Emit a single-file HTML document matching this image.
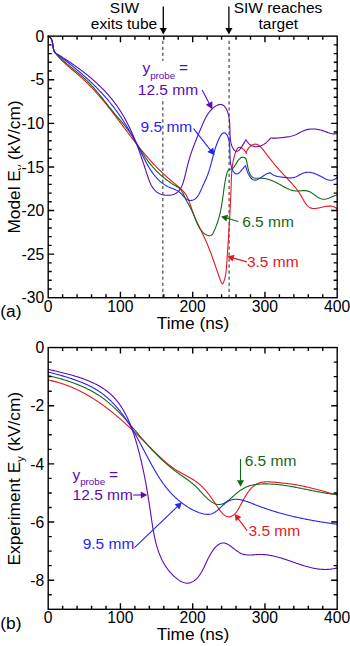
<!DOCTYPE html>
<html><head><meta charset="utf-8"><style>
html,body{margin:0;padding:0;background:#fff;}
svg{display:block;font-family:"Liberation Sans", sans-serif;}
</style></head><body>
<svg width="350" height="646" viewBox="0 0 350 646">
<text x="44.3" y="41.85" font-size="15.7" text-anchor="end" fill="#000" >0</text>
<text x="44.3" y="85.44166666666668" font-size="15.7" text-anchor="end" fill="#000" >-5</text>
<text x="44.3" y="129.03333333333333" font-size="15.7" text-anchor="end" fill="#000" >-10</text>
<text x="44.3" y="172.625" font-size="15.7" text-anchor="end" fill="#000" >-15</text>
<text x="44.3" y="216.21666666666667" font-size="15.7" text-anchor="end" fill="#000" >-20</text>
<text x="44.3" y="259.80833333333334" font-size="15.7" text-anchor="end" fill="#000" >-25</text>
<text x="44.3" y="303.4" font-size="15.7" text-anchor="end" fill="#000" >-30</text>
<text x="48.2" y="311.5" font-size="15.7" text-anchor="middle" fill="#000" >0</text>
<text x="120.45" y="311.5" font-size="15.7" text-anchor="middle" fill="#000" >100</text>
<text x="192.7" y="311.5" font-size="15.7" text-anchor="middle" fill="#000" >200</text>
<text x="264.95" y="311.5" font-size="15.7" text-anchor="middle" fill="#000" >300</text>
<text x="337.2" y="311.5" font-size="15.7" text-anchor="middle" fill="#000" >400</text>
<text x="44.3" y="353.25" font-size="15.7" text-anchor="end" fill="#000" >0</text>
<text x="44.3" y="411.4166666666667" font-size="15.7" text-anchor="end" fill="#000" >-2</text>
<text x="44.3" y="469.5833333333333" font-size="15.7" text-anchor="end" fill="#000" >-4</text>
<text x="44.3" y="527.75" font-size="15.7" text-anchor="end" fill="#000" >-6</text>
<text x="44.3" y="585.9166666666667" font-size="15.7" text-anchor="end" fill="#000" >-8</text>
<text x="48.2" y="623" font-size="15.7" text-anchor="middle" fill="#000" >0</text>
<text x="120.45" y="623" font-size="15.7" text-anchor="middle" fill="#000" >100</text>
<text x="192.7" y="623" font-size="15.7" text-anchor="middle" fill="#000" >200</text>
<text x="264.95" y="623" font-size="15.7" text-anchor="middle" fill="#000" >300</text>
<text x="337.2" y="623" font-size="15.7" text-anchor="middle" fill="#000" >400</text>
<text x="193.0" y="329.3" font-size="17.3" text-anchor="middle" fill="#000" >Time (ns)</text>
<text x="193.0" y="640.2" font-size="17.3" text-anchor="middle" fill="#000" >Time (ns)</text>
<text x="0.3" y="317.2" font-size="17.3" text-anchor="start" fill="#000" >(a)</text>
<text x="0.3" y="629" font-size="17.3" text-anchor="start" fill="#000" >(b)</text>
<text transform="translate(19.6,233.6) rotate(-90)" font-size="17.3">Model E<tspan font-size="11" dy="4.4">y</tspan><tspan dy="-4.4"> (kV/cm)</tspan></text>
<text transform="translate(19.6,565.5) rotate(-90)" font-size="17.3">Experiment E<tspan font-size="11" dy="4.4">y</tspan><tspan dy="-4.4"> (kV/cm)</tspan></text>
<rect x="21" y="161.2" width="24" height="12.2" fill="#fff"/>
<text x="44.3" y="172.625" font-size="15.7" text-anchor="end" fill="#000" >-15</text>
<path d="M162.85 40.7V297" stroke="#3a3a3a" stroke-width="1.1" stroke-dasharray="3.2 2.85" fill="none"/>
<path d="M229.1 40.7V297" stroke="#3a3a3a" stroke-width="1.1" stroke-dasharray="3.2 2.85" fill="none"/>
<g fill="none" stroke-width="1.1" stroke-linejoin="round" stroke-linecap="round">
<path d="M48.20 36.20L49.15 36.72L49.95 37.33L50.61 38.02L51.15 38.78L51.59 39.61L51.94 40.49L52.22 41.41L52.43 42.38L52.61 43.37L52.75 44.38L52.88 45.41L53.02 46.43L53.17 47.46L53.36 48.46L53.59 49.45L53.88 50.41L54.26 51.32L54.72 52.19L55.30 53.00L55.88 53.76L56.47 54.51L57.07 55.26L57.69 55.99L58.32 56.72L58.96 57.44L59.62 58.15L60.28 58.85L60.96 59.55L61.64 60.24L62.33 60.92L63.04 61.60L63.75 62.27L64.46 62.94L65.19 63.61L65.92 64.27L66.66 64.92L67.40 65.58L68.15 66.23L68.90 66.88L69.65 67.53L70.41 68.17L71.17 68.82L71.93 69.46L72.70 70.10L73.46 70.75L74.23 71.39L74.99 72.04L75.76 72.68L76.52 73.33L77.28 73.98L78.04 74.63L78.80 75.29L79.55 75.95L80.30 76.61L81.04 77.28L81.79 77.95L82.52 78.63L83.25 79.30L83.98 79.99L84.71 80.67L85.43 81.36L86.15 82.05L86.86 82.75L87.57 83.45L88.28 84.15L88.98 84.86L89.68 85.57L90.37 86.28L91.06 87.00L91.75 87.72L92.44 88.44L93.12 89.17L93.80 89.89L94.47 90.63L95.15 91.36L95.82 92.10L96.48 92.84L97.15 93.58L97.81 94.32L98.47 95.07L99.12 95.82L99.78 96.57L100.43 97.33L101.07 98.08L101.72 98.84L102.36 99.60L103.00 100.37L103.64 101.13L104.27 101.90L104.91 102.67L105.54 103.44L106.17 104.21L106.79 104.99L107.42 105.77L108.04 106.55L108.66 107.33L109.28 108.11L109.90 108.89L110.51 109.68L111.13 110.46L111.74 111.25L112.35 112.04L112.96 112.83L113.57 113.62L114.17 114.41L114.78 115.21L115.38 116.00L115.99 116.80L116.59 117.60L117.19 118.39L117.79 119.19L118.39 119.99L118.99 120.79L119.59 121.59L120.18 122.39L120.78 123.19L121.38 123.99L121.98 124.79L122.57 125.59L123.17 126.39L123.76 127.19L124.36 127.99L124.96 128.79L125.55 129.59L126.15 130.39L126.75 131.19L127.35 131.99L127.94 132.79L128.54 133.59L129.14 134.38L129.74 135.18L130.34 135.98L130.95 136.77L131.55 137.57L132.15 138.36L132.76 139.15L133.36 139.94L133.97 140.73L134.58 141.52L135.19 142.31L135.80 143.10L136.41 143.88L137.03 144.66L137.65 145.45L138.26 146.23L138.89 147.00L139.51 147.78L140.13 148.56L140.76 149.33L141.39 150.10L142.02 150.87L142.65 151.63L143.29 152.40L143.93 153.16L144.57 153.92L145.21 154.68L145.86 155.43L146.51 156.18L147.16 156.93L147.81 157.68L148.47 158.42L149.13 159.16L149.80 159.90L150.46 160.64L151.13 161.37L151.81 162.10L152.48 162.83L153.16 163.55L153.84 164.28L154.53 164.99L155.21 165.71L155.90 166.42L156.60 167.13L157.29 167.84L157.99 168.54L158.70 169.24L159.40 169.94L160.11 170.63L160.82 171.32L161.53 172.01L162.25 172.69L162.97 173.37L163.69 174.05L164.42 174.73L165.15 175.40L165.88 176.06L166.61 176.73L167.35 177.39L168.09 178.04L168.83 178.70L169.58 179.35L170.33 179.99L171.08 180.64L171.83 181.27L172.59 181.91L173.35 182.54L174.12 183.17L174.88 183.79L175.65 184.42L176.42 185.04L177.18 185.66L177.94 186.29L178.69 186.92L179.43 187.56L180.16 188.21L180.88 188.87L181.58 189.54L182.27 190.23L182.94 190.93L183.58 191.66L184.21 192.40L184.80 193.16L185.37 193.95L185.92 194.76L186.43 195.61L186.91 196.47L187.37 197.36L187.80 198.27L188.22 199.20L188.61 200.14L188.99 201.10L189.35 202.07L189.71 203.05L190.05 204.03L190.39 205.02L190.72 206.01L191.05 207.01L191.38 208.00L191.72 208.99L192.06 209.97L192.41 210.94L192.76 211.91L193.12 212.87L193.49 213.82L193.87 214.77L194.25 215.70L194.63 216.64L195.02 217.56L195.42 218.48L195.82 219.40L196.23 220.31L196.63 221.22L197.05 222.12L197.46 223.02L197.88 223.92L198.30 224.81L198.72 225.70L199.14 226.59L199.57 227.48L200.00 228.37L200.42 229.25L200.85 230.13L201.28 231.02L201.70 231.90L202.13 232.79L202.56 233.67L202.98 234.56L203.40 235.45L203.82 236.34L204.24 237.23L204.65 238.13L205.07 239.03L205.47 239.93L205.88 240.83L206.28 241.74L206.67 242.66L207.07 243.57L207.45 244.50L207.84 245.42L208.22 246.35L208.59 247.28L208.97 248.21L209.33 249.15L209.70 250.09L210.06 251.03L210.42 251.97L210.78 252.91L211.13 253.86L211.48 254.81L211.83 255.75L212.17 256.70L212.52 257.65L212.86 258.60L213.19 259.55L213.53 260.50L213.86 261.45L214.19 262.39L214.52 263.34L214.85 264.29L215.18 265.23L215.50 266.17L215.82 267.11L216.15 268.05L216.47 268.99L216.79 269.92L217.10 270.85L217.42 271.78L217.74 272.71L218.06 273.65L218.39 274.59L218.72 275.55L219.06 276.53L219.41 277.54L219.77 278.57L220.15 279.64L220.55 280.74L220.96 281.80L221.37 282.73L221.79 283.44L222.21 283.84L222.61 283.83L223.01 283.41L223.39 282.70L223.75 281.84L224.07 280.94L224.38 280.02L224.65 279.08L224.90 278.14L225.13 277.18L225.34 276.21L225.53 275.23L225.70 274.24L225.85 273.24L225.99 272.23L226.11 271.22L226.23 270.20L226.33 269.18L226.42 268.15L226.51 267.13L226.59 266.10L226.66 265.07L226.73 264.04L226.80 263.02L226.87 262.00L226.94 260.98L227.01 259.97L227.08 258.95L227.15 257.95L227.21 256.94L227.28 255.93L227.35 254.93L227.41 253.93L227.48 252.93L227.55 251.93L227.61 250.94L227.68 249.95L227.74 248.95L227.81 247.96L227.87 246.97L227.93 245.98L228.00 244.99L228.06 244.00L228.12 243.02L228.19 242.03L228.25 241.04L228.31 240.05L228.38 239.06L228.44 238.08L228.50 237.09L228.57 236.10L228.63 235.11L228.69 234.12L228.75 233.13L228.81 232.15L228.87 231.16L228.94 230.17L229.00 229.18L229.06 228.19L229.12 227.20L229.18 226.21L229.24 225.21L229.30 224.22L229.35 223.23L229.41 222.24L229.47 221.25L229.53 220.26L229.58 219.26L229.64 218.27L229.70 217.28L229.75 216.28L229.81 215.29L229.86 214.29L229.92 213.30L229.97 212.30L230.02 211.31L230.08 210.31L230.13 209.31L230.18 208.32L230.23 207.32L230.28 206.32L230.33 205.32L230.38 204.32L230.42 203.32L230.47 202.32L230.52 201.32L230.56 200.32L230.61 199.32L230.65 198.32L230.70 197.32L230.74 196.32L230.78 195.31L230.82 194.31L230.86 193.30L230.90 192.30L230.94 191.29L230.98 190.29L231.01 189.28L231.05 188.27L231.08 187.26L231.12 186.26L231.15 185.25L231.18 184.24L231.21 183.23L231.25 182.22L231.28 181.21L231.32 180.20L231.36 179.19L231.40 178.18L231.45 177.17L231.50 176.17L231.55 175.16L231.61 174.16L231.68 173.15L231.75 172.15L231.83 171.15L231.92 170.15L232.02 169.16L232.12 168.17L232.24 167.17L232.36 166.19L232.49 165.20L232.64 164.22L232.80 163.24L232.97 162.26L233.15 161.29L233.35 160.32L233.56 159.36L233.78 158.40L234.02 157.44L234.28 156.49L234.55 155.54L234.84 154.60L235.14 153.66L235.47 152.72L235.81 151.80L236.17 150.87L236.56 149.98L236.99 149.15L237.48 148.42L238.03 147.84L238.67 147.44L239.41 147.26L240.25 147.35L241.23 147.74L242.33 148.46L243.48 149.42L244.57 150.51L245.48 151.60L246.09 152.58L246.31 153.32L246.00 153.70L246.29 152.52L246.68 151.40L247.15 150.34L247.70 149.35L248.32 148.43L248.99 147.58L249.72 146.82L250.49 146.14L251.28 145.56L252.10 145.07L252.93 144.68L253.77 144.39L254.59 144.21L255.41 144.15L256.19 144.21L256.95 144.38L257.69 144.66L258.41 145.03L259.11 145.48L259.79 146.02L260.45 146.62L261.10 147.29L261.74 148.00L262.37 148.76L263.00 149.55L263.62 150.36L264.23 151.19L264.85 152.03L265.47 152.86L266.08 153.69L266.70 154.52L267.33 155.34L267.95 156.15L268.58 156.96L269.20 157.77L269.83 158.57L270.46 159.36L271.09 160.15L271.73 160.94L272.36 161.72L273.00 162.50L273.64 163.27L274.28 164.04L274.92 164.81L275.57 165.57L276.21 166.32L276.86 167.08L277.51 167.82L278.16 168.57L278.81 169.31L279.46 170.05L280.12 170.78L280.77 171.51L281.43 172.24L282.09 172.96L282.75 173.68L283.41 174.40L284.07 175.12L284.74 175.83L285.41 176.53L286.07 177.24L286.74 177.94L287.41 178.65L288.07 179.35L288.74 180.06L289.40 180.77L290.07 181.48L290.73 182.19L291.38 182.91L292.04 183.64L292.68 184.37L293.33 185.11L293.97 185.86L294.60 186.62L295.23 187.39L295.85 188.17L296.47 188.96L297.08 189.76L297.68 190.58L298.27 191.41L298.85 192.26L299.43 193.12L299.99 194.00L300.54 194.90L301.08 195.82L301.62 196.75L302.15 197.68L302.68 198.62L303.20 199.55L303.73 200.47L304.27 201.37L304.82 202.24L305.37 203.08L305.95 203.89L306.54 204.64L307.15 205.35L307.78 206.00L308.44 206.58L309.13 207.10L309.85 207.54L310.60 207.89L311.39 208.16L312.22 208.34L313.08 208.45L313.97 208.48L314.89 208.46L315.83 208.38L316.79 208.26L317.78 208.10L318.78 207.91L319.79 207.69L320.81 207.47L321.84 207.24L322.88 207.00L323.92 206.78L324.96 206.58L326.00 206.40L327.03 206.25L328.05 206.14L329.06 206.08L330.06 206.08L331.04 206.14L332.00 206.27L332.94 206.48L333.85 206.78L334.74 207.17L335.59 207.67L336.41 208.28L337.20 209.00" stroke="#e41822"/>
<path d="M48.20 36.20L49.15 36.72L49.95 37.33L50.61 38.02L51.15 38.78L51.59 39.61L51.94 40.49L52.22 41.41L52.43 42.38L52.61 43.37L52.75 44.38L52.88 45.41L53.02 46.43L53.17 47.46L53.36 48.46L53.59 49.45L53.88 50.41L54.26 51.32L54.72 52.19L55.30 53.00L55.98 53.73L56.66 54.44L57.35 55.15L58.05 55.86L58.76 56.55L59.48 57.24L60.20 57.92L60.93 58.59L61.66 59.26L62.40 59.92L63.15 60.58L63.89 61.23L64.65 61.88L65.41 62.53L66.17 63.17L66.93 63.81L67.70 64.44L68.47 65.07L69.24 65.71L70.01 66.33L70.79 66.96L71.57 67.59L72.34 68.22L73.12 68.84L73.89 69.47L74.67 70.09L75.45 70.72L76.22 71.35L76.99 71.98L77.76 72.62L78.53 73.25L79.29 73.89L80.05 74.54L80.81 75.18L81.56 75.83L82.31 76.49L83.05 77.15L83.79 77.81L84.52 78.48L85.25 79.16L85.97 79.84L86.68 80.53L87.39 81.23L88.09 81.93L88.79 82.64L89.48 83.35L90.17 84.07L90.85 84.79L91.53 85.51L92.20 86.25L92.87 86.98L93.54 87.72L94.20 88.47L94.85 89.21L95.51 89.96L96.16 90.72L96.80 91.48L97.45 92.24L98.09 93.00L98.72 93.77L99.36 94.54L99.99 95.31L100.62 96.08L101.25 96.86L101.88 97.64L102.51 98.42L103.13 99.20L103.75 99.98L104.38 100.76L105.00 101.55L105.62 102.33L106.24 103.11L106.86 103.90L107.48 104.68L108.10 105.47L108.72 106.25L109.35 107.04L109.97 107.82L110.59 108.60L111.22 109.38L111.84 110.16L112.47 110.94L113.10 111.72L113.73 112.49L114.36 113.26L115.00 114.03L115.64 114.80L116.28 115.57L116.92 116.33L117.56 117.09L118.20 117.86L118.85 118.62L119.49 119.38L120.13 120.14L120.78 120.90L121.42 121.66L122.06 122.42L122.69 123.19L123.32 123.95L123.95 124.72L124.58 125.49L125.20 126.27L125.82 127.05L126.43 127.83L127.04 128.61L127.64 129.40L128.23 130.20L128.82 131.00L129.40 131.80L129.97 132.62L130.53 133.43L131.09 134.26L131.64 135.08L132.18 135.92L132.72 136.76L133.25 137.60L133.77 138.44L134.30 139.29L134.81 140.15L135.33 141.00L135.84 141.86L136.35 142.72L136.86 143.58L137.37 144.44L137.87 145.30L138.38 146.16L138.89 147.02L139.40 147.89L139.91 148.75L140.42 149.61L140.93 150.46L141.45 151.32L141.97 152.17L142.50 153.02L143.02 153.87L143.56 154.72L144.10 155.56L144.65 156.39L145.20 157.22L145.76 158.05L146.33 158.87L146.91 159.68L147.50 160.49L148.09 161.29L148.69 162.09L149.30 162.88L149.92 163.66L150.55 164.43L151.19 165.20L151.83 165.97L152.48 166.72L153.14 167.47L153.81 168.21L154.48 168.95L155.16 169.68L155.85 170.40L156.55 171.11L157.26 171.81L157.97 172.51L158.69 173.20L159.42 173.88L160.15 174.55L160.89 175.22L161.64 175.88L162.40 176.53L163.16 177.17L163.93 177.80L164.70 178.42L165.49 179.04L166.28 179.65L167.07 180.24L167.87 180.83L168.68 181.41L169.50 181.98L170.32 182.54L171.15 183.09L171.98 183.64L172.82 184.17L173.67 184.69L174.52 185.21L175.38 185.71L176.23 186.21L177.08 186.73L177.90 187.26L178.70 187.83L179.45 188.45L180.16 189.14L180.81 189.88L181.41 190.69L181.96 191.54L182.48 192.44L182.97 193.36L183.44 194.31L183.88 195.26L184.32 196.22L184.76 197.17L185.20 198.11L185.64 199.02L186.09 199.91L186.55 200.78L187.01 201.64L187.48 202.49L187.94 203.32L188.41 204.15L188.87 204.98L189.34 205.81L189.80 206.64L190.25 207.47L190.70 208.32L191.15 209.18L191.58 210.05L192.00 210.93L192.42 211.84L192.82 212.77L193.21 213.71L193.60 214.67L193.99 215.64L194.37 216.62L194.75 217.60L195.14 218.59L195.53 219.58L195.92 220.56L196.32 221.54L196.74 222.51L197.16 223.47L197.60 224.42L198.05 225.35L198.52 226.26L199.01 227.15L199.53 228.02L200.06 228.86L200.63 229.67L201.22 230.45L201.84 231.19L202.49 231.90L203.18 232.57L203.90 233.19L204.65 233.76L205.45 234.29L206.29 234.76L207.15 235.16L208.01 235.46L208.87 235.65L209.71 235.69L210.51 235.57L211.25 235.28L211.92 234.78L212.52 234.09L213.06 233.25L213.55 232.32L214.01 231.32L214.45 230.32L214.88 229.33L215.28 228.34L215.68 227.36L216.06 226.39L216.42 225.42L216.77 224.46L217.11 223.51L217.44 222.55L217.75 221.61L218.05 220.66L218.35 219.72L218.62 218.78L218.89 217.84L219.15 216.90L219.40 215.96L219.64 215.02L219.87 214.08L220.10 213.14L220.31 212.20L220.52 211.25L220.72 210.30L220.91 209.34L221.09 208.39L221.27 207.42L221.45 206.45L221.62 205.47L221.78 204.49L221.94 203.50L222.09 202.50L222.24 201.49L222.39 200.48L222.54 199.45L222.68 198.43L222.82 197.39L222.96 196.36L223.10 195.32L223.24 194.28L223.38 193.24L223.52 192.20L223.66 191.16L223.80 190.12L223.94 189.08L224.08 188.05L224.23 187.03L224.38 186.01L224.53 184.99L224.69 183.99L224.85 182.99L225.02 182.00L225.19 181.02L225.37 180.06L225.55 179.11L225.74 178.17L225.94 177.24L226.14 176.33L226.35 175.44L226.57 174.56L226.80 173.71L227.05 172.89L227.32 172.13L227.60 171.43L227.92 170.80L228.28 170.27L228.67 169.84L229.10 169.54L229.58 169.36L230.09 169.25L230.63 169.17L231.17 169.06L231.72 168.88L232.26 168.63L232.81 168.28L233.35 167.80L233.88 167.18L234.41 166.42L234.94 165.57L235.49 164.64L236.05 163.66L236.65 162.66L237.28 161.67L237.96 160.71L238.68 159.82L239.44 159.01L240.22 158.32L241.03 157.76L241.85 157.37L242.68 157.17L243.52 157.19L244.35 157.45L245.18 157.98L246.00 158.80L246.23 159.48L246.44 160.27L246.64 161.14L246.83 162.09L247.03 163.10L247.23 164.16L247.43 165.27L247.65 166.40L247.88 167.54L248.14 168.68L248.42 169.82L248.73 170.93L249.08 172.00L249.47 173.03L249.90 174.00L250.38 174.89L250.91 175.70L251.50 176.41L252.16 177.01L252.88 177.48L253.67 177.83L254.52 178.05L255.43 178.18L256.37 178.23L257.35 178.23L258.34 178.21L259.34 178.18L260.34 178.17L261.32 178.19L262.29 178.25L263.25 178.34L264.19 178.46L265.13 178.61L266.05 178.80L266.96 179.01L267.87 179.25L268.77 179.51L269.65 179.80L270.54 180.11L271.41 180.44L272.28 180.79L273.15 181.16L274.01 181.54L274.86 181.94L275.71 182.36L276.56 182.78L277.41 183.22L278.26 183.67L279.11 184.12L279.95 184.58L280.80 185.05L281.65 185.52L282.50 186.00L283.35 186.47L284.21 186.95L285.07 187.41L285.94 187.86L286.81 188.30L287.69 188.71L288.57 189.11L289.47 189.48L290.37 189.81L291.29 190.12L292.21 190.38L293.15 190.60L294.09 190.78L295.06 190.90L296.03 190.97L297.02 190.99L298.02 190.96L299.03 190.91L300.04 190.83L301.06 190.76L302.07 190.69L303.08 190.64L304.09 190.62L305.08 190.64L306.07 190.73L307.03 190.88L307.98 191.12L308.91 191.44L309.83 191.85L310.72 192.31L311.61 192.84L312.48 193.40L313.34 194.00L314.20 194.61L315.05 195.24L315.90 195.85L316.75 196.46L317.61 197.03L318.46 197.56L319.33 198.05L320.20 198.47L321.08 198.81L321.98 199.07L322.89 199.23L323.81 199.28L324.76 199.22L325.72 199.07L326.69 198.84L327.66 198.54L328.65 198.19L329.63 197.81L330.61 197.39L331.59 196.97L332.56 196.55L333.52 196.15L334.47 195.78L335.40 195.46L336.31 195.19L337.20 195.00" stroke="#146814"/>
<path d="M48.20 36.20L49.15 36.72L49.95 37.33L50.61 38.02L51.15 38.78L51.59 39.61L51.94 40.49L52.22 41.41L52.43 42.38L52.61 43.37L52.75 44.38L52.88 45.41L53.02 46.43L53.17 47.46L53.36 48.46L53.59 49.45L53.88 50.41L54.26 51.32L54.72 52.19L55.30 53.00L56.10 53.58L56.90 54.16L57.70 54.74L58.50 55.32L59.30 55.91L60.10 56.50L60.89 57.09L61.69 57.68L62.48 58.28L63.28 58.88L64.07 59.48L64.87 60.08L65.66 60.69L66.45 61.29L67.24 61.90L68.03 62.52L68.81 63.13L69.60 63.75L70.38 64.37L71.17 64.99L71.95 65.62L72.73 66.24L73.51 66.87L74.28 67.50L75.06 68.14L75.83 68.78L76.60 69.42L77.37 70.06L78.14 70.70L78.91 71.35L79.67 72.00L80.44 72.65L81.20 73.31L81.95 73.97L82.71 74.63L83.46 75.29L84.22 75.96L84.97 76.62L85.71 77.30L86.46 77.97L87.20 78.65L87.94 79.32L88.67 80.01L89.41 80.69L90.14 81.38L90.87 82.07L91.59 82.76L92.32 83.45L93.04 84.15L93.75 84.85L94.47 85.55L95.18 86.26L95.89 86.97L96.59 87.68L97.29 88.39L97.99 89.11L98.69 89.83L99.38 90.55L100.07 91.28L100.75 92.00L101.43 92.74L102.11 93.47L102.79 94.21L103.46 94.95L104.12 95.69L104.79 96.43L105.45 97.18L106.10 97.93L106.75 98.68L107.40 99.44L108.04 100.20L108.68 100.96L109.32 101.73L109.95 102.50L110.57 103.27L111.20 104.04L111.81 104.82L112.43 105.60L113.04 106.38L113.64 107.17L114.24 107.95L114.84 108.75L115.44 109.54L116.03 110.34L116.61 111.14L117.19 111.94L117.77 112.74L118.35 113.55L118.92 114.36L119.48 115.17L120.05 115.99L120.61 116.81L121.16 117.63L121.72 118.45L122.27 119.28L122.81 120.11L123.35 120.94L123.89 121.77L124.43 122.61L124.96 123.45L125.49 124.29L126.02 125.13L126.54 125.97L127.06 126.82L127.58 127.67L128.10 128.53L128.61 129.38L129.12 130.24L129.62 131.10L130.13 131.96L130.63 132.82L131.12 133.69L131.62 134.56L132.11 135.43L132.60 136.30L133.09 137.17L133.57 138.05L134.06 138.93L134.54 139.81L135.02 140.69L135.49 141.58L135.96 142.46L136.44 143.35L136.91 144.24L137.37 145.14L137.84 146.03L138.30 146.93L138.76 147.83L139.22 148.73L139.68 149.63L140.13 150.53L140.59 151.44L141.04 152.34L141.49 153.25L141.94 154.16L142.40 155.07L142.85 155.97L143.30 156.88L143.76 157.78L144.22 158.68L144.68 159.58L145.14 160.48L145.61 161.37L146.08 162.26L146.56 163.14L147.04 164.02L147.52 164.89L148.02 165.76L148.52 166.62L149.02 167.47L149.54 168.32L150.06 169.16L150.59 169.99L151.13 170.81L151.68 171.62L152.24 172.42L152.81 173.21L153.39 174.00L153.98 174.77L154.59 175.52L155.20 176.27L155.83 177.00L156.47 177.72L157.13 178.43L157.80 179.12L158.49 179.80L159.19 180.46L159.91 181.11L160.64 181.74L161.39 182.36L162.16 182.96L162.94 183.54L163.74 184.10L164.56 184.64L165.41 185.17L166.27 185.68L167.15 186.16L168.05 186.63L168.97 187.08L169.91 187.50L170.88 187.91L171.85 188.30L172.84 188.69L173.82 189.08L174.80 189.49L175.76 189.91L176.70 190.37L177.61 190.85L178.49 191.38L179.33 191.96L180.12 192.60L180.86 193.30L181.56 194.04L182.23 194.81L182.89 195.59L183.54 196.37L184.21 197.11L184.89 197.81L185.62 198.45L186.38 199.02L187.18 199.50L188.01 199.89L188.87 200.18L189.73 200.37L190.61 200.45L191.48 200.41L192.35 200.25L193.20 199.97L194.02 199.58L194.82 199.10L195.57 198.52L196.27 197.87L196.93 197.16L197.55 196.38L198.14 195.55L198.69 194.67L199.21 193.75L199.71 192.81L200.19 191.83L200.65 190.84L201.09 189.85L201.53 188.85L201.96 187.85L202.38 186.87L202.81 185.90L203.23 184.96L203.66 184.03L204.08 183.11L204.50 182.21L204.91 181.31L205.32 180.42L205.72 179.54L206.11 178.66L206.50 177.77L206.87 176.89L207.23 176.00L207.58 175.11L207.92 174.20L208.24 173.29L208.56 172.38L208.87 171.46L209.16 170.53L209.45 169.59L209.73 168.66L210.01 167.71L210.28 166.76L210.54 165.81L210.80 164.85L211.06 163.89L211.31 162.92L211.56 161.95L211.82 160.98L212.07 160.01L212.32 159.03L212.57 158.05L212.83 157.07L213.09 156.08L213.35 155.10L213.62 154.11L213.89 153.12L214.17 152.13L214.46 151.14L214.75 150.15L215.05 149.16L215.36 148.17L215.69 147.18L216.02 146.19L216.36 145.20L216.72 144.22L217.09 143.23L217.48 142.25L217.88 141.27L218.29 140.29L218.73 139.31L219.18 138.35L219.64 137.41L220.12 136.52L220.61 135.68L221.12 134.92L221.64 134.24L222.17 133.68L222.71 133.23L223.26 132.92L223.82 132.76L224.39 132.77L224.96 132.96L225.53 133.31L226.08 133.79L226.60 134.39L227.08 135.08L227.51 135.83L227.89 136.66L228.23 137.54L228.52 138.48L228.78 139.47L229.00 140.50L229.19 141.56L229.35 142.66L229.48 143.78L229.59 144.92L229.68 146.07L229.75 147.22L229.80 148.38L229.85 149.53L229.88 150.67L229.91 151.79L229.93 152.89L229.95 153.98L229.97 155.04L230.00 156.09L230.04 157.12L230.08 158.14L230.14 159.14L230.22 160.14L230.31 161.12L230.42 162.10L230.56 163.07L230.73 164.03L230.92 164.99L231.15 165.94L231.41 166.89L231.70 167.83L232.02 168.73L232.38 169.61L232.77 170.43L233.19 171.19L233.64 171.88L234.12 172.48L234.63 173.00L235.16 173.40L235.72 173.69L236.31 173.85L236.92 173.87L237.56 173.75L238.22 173.45L238.90 172.99L239.60 172.37L240.32 171.63L241.06 170.79L241.81 169.90L242.56 168.98L243.32 168.07L244.08 167.19L244.84 166.39L245.60 165.70L245.83 166.64L246.10 167.62L246.39 168.62L246.71 169.63L247.06 170.66L247.44 171.67L247.84 172.68L248.28 173.66L248.74 174.60L249.23 175.51L249.74 176.36L250.29 177.15L250.86 177.87L251.45 178.51L252.07 179.05L252.72 179.50L253.40 179.84L254.10 180.06L254.82 180.15L255.58 180.10L256.35 179.94L257.15 179.67L257.97 179.31L258.80 178.87L259.65 178.36L260.52 177.81L261.40 177.23L262.29 176.63L263.19 176.02L264.09 175.43L265.00 174.86L265.92 174.33L266.84 173.85L267.76 173.45L268.68 173.13L269.59 172.91L270.50 172.80L271.27 173.53L272.07 174.16L272.89 174.70L273.74 175.16L274.61 175.54L275.50 175.87L276.40 176.14L277.32 176.36L278.25 176.55L279.19 176.71L280.13 176.85L281.08 176.97L282.03 177.10L282.98 177.23L283.93 177.36L284.87 177.50L285.82 177.62L286.76 177.74L287.70 177.83L288.64 177.89L289.58 177.93L290.52 177.92L291.46 177.87L292.40 177.77L293.34 177.61L294.28 177.39L295.22 177.09L296.16 176.72L297.11 176.28L298.05 175.79L298.99 175.26L299.93 174.73L300.87 174.21L301.81 173.73L302.75 173.30L303.68 172.95L304.61 172.67L305.54 172.47L306.46 172.33L307.39 172.26L308.31 172.25L309.22 172.30L310.14 172.40L311.06 172.56L311.97 172.76L312.88 173.00L313.79 173.28L314.70 173.61L315.61 173.96L316.52 174.34L317.43 174.75L318.34 175.19L319.24 175.64L320.15 176.10L321.06 176.58L321.97 177.07L322.87 177.56L323.78 178.04L324.69 178.51L325.61 178.94L326.53 179.34L327.45 179.67L328.38 179.94L329.32 180.13L330.27 180.24L331.22 180.23L332.19 180.12L333.16 179.88L334.15 179.49L335.15 178.96L336.17 178.27L337.20 177.40" stroke="#2424f4"/>
<path d="M48.20 36.20L49.15 36.72L49.95 37.33L50.61 38.02L51.15 38.78L51.59 39.61L51.94 40.49L52.22 41.41L52.43 42.38L52.61 43.37L52.75 44.38L52.88 45.41L53.02 46.43L53.17 47.46L53.36 48.46L53.59 49.45L53.88 50.41L54.26 51.32L54.72 52.19L55.30 53.00L56.13 53.50L56.97 54.00L57.80 54.50L58.64 55.01L59.47 55.52L60.31 56.04L61.14 56.56L61.98 57.08L62.81 57.60L63.65 58.13L64.48 58.66L65.32 59.20L66.15 59.74L66.98 60.28L67.81 60.83L68.65 61.38L69.48 61.93L70.31 62.49L71.13 63.05L71.96 63.62L72.79 64.19L73.61 64.76L74.43 65.33L75.26 65.91L76.08 66.49L76.89 67.08L77.71 67.67L78.52 68.26L79.34 68.86L80.15 69.46L80.96 70.07L81.76 70.68L82.56 71.29L83.37 71.90L84.16 72.52L84.96 73.15L85.75 73.77L86.54 74.40L87.33 75.04L88.11 75.68L88.89 76.32L89.67 76.96L90.44 77.61L91.21 78.27L91.98 78.92L92.75 79.58L93.50 80.25L94.26 80.92L95.01 81.59L95.76 82.27L96.50 82.95L97.24 83.63L97.98 84.32L98.71 85.01L99.44 85.70L100.16 86.40L100.87 87.11L101.59 87.81L102.29 88.52L103.00 89.24L103.69 89.96L104.39 90.68L105.07 91.41L105.75 92.14L106.43 92.87L107.10 93.61L107.77 94.35L108.43 95.10L109.08 95.85L109.73 96.60L110.37 97.36L111.00 98.12L111.63 98.89L112.26 99.66L112.87 100.43L113.48 101.21L114.09 101.99L114.68 102.78L115.27 103.57L115.86 104.36L116.43 105.16L117.00 105.96L117.57 106.77L118.12 107.58L118.67 108.39L119.22 109.21L119.75 110.03L120.29 110.85L120.81 111.68L121.33 112.52L121.84 113.35L122.35 114.19L122.85 115.03L123.35 115.88L123.84 116.73L124.33 117.58L124.81 118.44L125.28 119.30L125.75 120.16L126.22 121.03L126.68 121.90L127.13 122.77L127.58 123.65L128.02 124.52L128.47 125.41L128.90 126.29L129.33 127.18L129.76 128.07L130.18 128.96L130.60 129.86L131.01 130.75L131.42 131.66L131.83 132.56L132.23 133.47L132.63 134.38L133.02 135.29L133.41 136.20L133.80 137.12L134.19 138.04L134.57 138.96L134.94 139.88L135.32 140.81L135.69 141.74L136.05 142.67L136.42 143.60L136.78 144.53L137.14 145.47L137.50 146.41L137.85 147.35L138.20 148.29L138.55 149.24L138.90 150.18L139.24 151.13L139.58 152.08L139.92 153.03L140.26 153.98L140.60 154.94L140.93 155.90L141.26 156.85L141.60 157.81L141.92 158.77L142.25 159.74L142.58 160.70L142.90 161.66L143.23 162.63L143.55 163.60L143.87 164.57L144.19 165.54L144.51 166.51L144.83 167.48L145.15 168.46L145.47 169.43L145.79 170.40L146.10 171.38L146.42 172.36L146.73 173.34L147.05 174.31L147.37 175.29L147.69 176.27L148.01 177.24L148.34 178.21L148.68 179.17L149.03 180.12L149.39 181.06L149.76 181.98L150.15 182.89L150.56 183.78L150.99 184.66L151.44 185.51L151.91 186.34L152.41 187.14L152.93 187.92L153.48 188.67L154.07 189.39L154.68 190.08L155.33 190.73L156.02 191.35L156.74 191.93L157.51 192.47L158.32 192.97L159.17 193.42L160.06 193.83L161.00 194.19L161.98 194.51L162.98 194.77L164.01 194.99L165.06 195.15L166.12 195.26L167.18 195.32L168.25 195.32L169.30 195.27L170.34 195.17L171.37 195.00L172.36 194.78L173.32 194.50L174.24 194.15L175.12 193.75L175.95 193.28L176.73 192.76L177.46 192.18L178.14 191.54L178.78 190.86L179.38 190.13L179.94 189.35L180.47 188.54L180.96 187.69L181.42 186.81L181.85 185.90L182.25 184.96L182.63 184.00L182.98 183.02L183.31 182.02L183.63 181.01L183.93 179.99L184.21 178.96L184.49 177.93L184.75 176.90L185.01 175.87L185.26 174.85L185.50 173.83L185.75 172.83L185.99 171.83L186.23 170.84L186.47 169.85L186.71 168.87L186.95 167.89L187.19 166.92L187.43 165.96L187.67 164.99L187.92 164.04L188.17 163.08L188.42 162.13L188.68 161.19L188.94 160.24L189.22 159.30L189.49 158.36L189.78 157.42L190.06 156.49L190.36 155.55L190.66 154.62L190.96 153.69L191.27 152.76L191.59 151.84L191.91 150.91L192.24 149.99L192.57 149.06L192.90 148.14L193.24 147.22L193.58 146.30L193.93 145.38L194.28 144.46L194.63 143.54L194.99 142.62L195.35 141.70L195.72 140.78L196.09 139.86L196.46 138.94L196.83 138.02L197.21 137.10L197.59 136.18L197.97 135.26L198.35 134.34L198.74 133.41L199.13 132.49L199.52 131.57L199.91 130.64L200.30 129.71L200.70 128.78L201.10 127.85L201.49 126.92L201.89 125.99L202.29 125.05L202.69 124.12L203.10 123.18L203.51 122.25L203.93 121.32L204.37 120.39L204.81 119.47L205.26 118.56L205.73 117.66L206.22 116.76L206.72 115.88L207.25 115.01L207.80 114.15L208.37 113.31L208.97 112.48L209.59 111.68L210.24 110.89L210.93 110.12L211.64 109.37L212.39 108.64L213.17 107.94L213.98 107.28L214.81 106.67L215.65 106.11L216.49 105.62L217.34 105.19L218.18 104.85L219.01 104.60L219.82 104.46L220.61 104.42L221.36 104.50L222.09 104.69L222.77 105.00L223.43 105.41L224.05 105.92L224.64 106.52L225.19 107.20L225.71 107.95L226.20 108.76L226.65 109.63L227.07 110.56L227.46 111.52L227.81 112.52L228.13 113.55L228.42 114.60L228.67 115.66L228.89 116.72L229.08 117.79L229.25 118.87L229.39 119.96L229.50 121.04L229.60 122.13L229.68 123.22L229.74 124.32L229.79 125.41L229.83 126.50L229.86 127.59L229.89 128.67L229.91 129.75L229.93 130.83L229.95 131.90L229.98 132.96L230.01 134.01L230.05 135.06L230.11 136.09L230.17 137.12L230.26 138.13L230.36 139.13L230.48 140.11L230.62 141.08L230.79 142.03L230.99 142.97L231.22 143.89L231.48 144.79L231.77 145.67L232.11 146.52L232.47 147.34L232.87 148.11L233.30 148.83L233.75 149.47L234.24 150.03L234.74 150.51L235.27 150.88L235.82 151.13L236.39 151.26L236.98 151.26L237.58 151.10L238.19 150.79L238.81 150.33L239.44 149.73L240.08 149.02L240.71 148.21L241.35 147.32L241.98 146.38L242.60 145.39L243.21 144.39L243.81 143.38L244.39 142.39L244.95 141.43L245.49 140.53L246.00 139.70L246.60 140.77L247.24 141.75L247.91 142.63L248.62 143.42L249.35 144.12L250.11 144.73L250.90 145.25L251.70 145.69L252.53 146.05L253.37 146.33L254.23 146.53L255.10 146.66L255.97 146.72L256.86 146.71L257.75 146.63L258.64 146.48L259.52 146.27L260.41 146.00L261.29 145.67L262.16 145.29L263.02 144.85L263.87 144.36L264.70 143.82L265.52 143.23L266.31 142.60L267.08 141.93L267.83 141.21L268.54 140.46L269.23 139.67L269.88 138.85L270.50 138.00L271.45 138.06L272.41 138.10L273.37 138.12L274.34 138.12L275.30 138.11L276.27 138.08L277.25 138.03L278.22 137.97L279.20 137.90L280.17 137.82L281.15 137.73L282.12 137.63L283.09 137.53L284.06 137.42L285.03 137.30L286.00 137.17L286.96 137.03L287.92 136.88L288.88 136.71L289.83 136.52L290.78 136.30L291.72 136.06L292.66 135.79L293.59 135.50L294.51 135.17L295.43 134.80L296.35 134.40L297.25 133.97L298.16 133.51L299.06 133.04L299.96 132.56L300.86 132.09L301.76 131.63L302.66 131.19L303.57 130.79L304.48 130.44L305.40 130.12L306.32 129.84L307.25 129.61L308.18 129.41L309.12 129.25L310.06 129.13L311.00 129.05L311.95 129.00L312.90 128.99L313.85 129.01L314.81 129.06L315.77 129.15L316.73 129.27L317.69 129.42L318.66 129.60L319.62 129.81L320.59 130.05L321.56 130.32L322.53 130.62L323.49 130.94L324.46 131.28L325.43 131.64L326.40 132.00L327.37 132.36L328.34 132.70L329.31 133.01L330.29 133.30L331.27 133.53L332.25 133.72L333.23 133.84L334.22 133.89L335.21 133.85L336.20 133.73L337.20 133.50" stroke="#5a0cb4"/>
</g>
<rect x="140" y="61" width="60" height="37" fill="#fff"/>
<text x="124.5" y="13" font-size="15.5" text-anchor="middle" fill="#000" >SIW</text>
<text x="124" y="28.7" font-size="15.5" text-anchor="middle" fill="#000" >exits tube</text>
<text x="278" y="13" font-size="15.5" text-anchor="middle" fill="#000" >SIW reaches</text>
<text x="278.3" y="28.5" font-size="15.5" text-anchor="middle" fill="#000" >target</text>
<path d="M163.30 6.50L163.30 29.10" stroke="#000" stroke-width="1.3" fill="none"/>
<path d="M163.30 34.60L159.70 28.10L166.90 28.10Z" fill="#000"/>
<path d="M228.90 6.50L228.90 29.10" stroke="#000" stroke-width="1.3" fill="none"/>
<path d="M228.90 34.60L225.30 28.10L232.50 28.10Z" fill="#000"/>
<text x="142.4" y="72.9" font-size="15.5" fill="#5a0cb4">y<tspan font-size="9.8" dy="5.6">probe</tspan><tspan dy="-5.6" dx="-0.6"> =</tspan></text>
<text x="137.8" y="94.8" font-size="15.5" text-anchor="start" fill="#5a0cb4" >12.5 mm</text>
<text x="140.6" y="132.4" font-size="15.5" text-anchor="start" fill="#2424f4" >9.5 mm</text>
<text x="242.2" y="226.8" font-size="15.5" text-anchor="start" fill="#146814" >6.5 mm</text>
<text x="246.9" y="266.8" font-size="15.5" text-anchor="start" fill="#e41822" >3.5 mm</text>
<path d="M202.10 90.10L209.55 103.92" stroke="#5a0cb4" stroke-width="1.1" fill="none"/>
<path d="M212.40 109.20L205.82 104.79L212.33 101.28Z" fill="#5a0cb4"/>
<path d="M193.60 128.60L210.89 150.58" stroke="#2424f4" stroke-width="1.1" fill="none"/>
<path d="M214.60 155.30L207.36 152.09L213.18 147.51Z" fill="#2424f4"/>
<path d="M238.40 221.50L226.28 217.95" stroke="#146814" stroke-width="1.1" fill="none"/>
<path d="M221.00 216.40L228.22 214.87L226.25 221.59Z" fill="#146814"/>
<path d="M247.00 261.90L232.60 257.88" stroke="#e41822" stroke-width="1.1" fill="none"/>
<path d="M227.30 256.40L234.50 254.78L232.62 261.52Z" fill="#e41822"/>
<g fill="none" stroke-width="1.1" stroke-linejoin="round" stroke-linecap="round">
<path d="M48.20 380.00L49.21 380.21L50.22 380.42L51.22 380.64L52.22 380.87L53.21 381.11L54.20 381.36L55.19 381.62L56.17 381.88L57.15 382.15L58.12 382.43L59.09 382.71L60.06 383.01L61.02 383.31L61.97 383.62L62.93 383.93L63.88 384.26L64.82 384.59L65.77 384.93L66.70 385.27L67.64 385.62L68.57 385.98L69.50 386.35L70.42 386.72L71.34 387.10L72.26 387.49L73.17 387.88L74.08 388.28L74.99 388.69L75.89 389.10L76.79 389.52L77.68 389.94L78.57 390.38L79.46 390.81L80.35 391.26L81.23 391.71L82.11 392.16L82.98 392.62L83.86 393.09L84.72 393.56L85.59 394.04L86.45 394.53L87.31 395.02L88.17 395.51L89.02 396.01L89.87 396.52L90.72 397.03L91.56 397.54L92.41 398.07L93.24 398.59L94.08 399.12L94.91 399.66L95.74 400.20L96.57 400.75L97.39 401.30L98.22 401.85L99.04 402.41L99.85 402.97L100.67 403.54L101.48 404.12L102.28 404.69L103.09 405.27L103.89 405.86L104.70 406.45L105.49 407.04L106.29 407.64L107.08 408.24L107.87 408.84L108.66 409.45L109.45 410.06L110.23 410.68L111.02 411.30L111.79 411.92L112.57 412.55L113.35 413.17L114.12 413.81L114.89 414.44L115.66 415.08L116.43 415.72L117.19 416.37L117.96 417.01L118.72 417.66L119.47 418.32L120.23 418.97L120.99 419.63L121.74 420.29L122.49 420.95L123.24 421.62L123.99 422.28L124.73 422.95L125.48 423.62L126.22 424.30L126.96 424.97L127.70 425.65L128.44 426.33L129.18 427.01L129.91 427.69L130.64 428.38L131.37 429.06L132.10 429.75L132.83 430.44L133.56 431.13L134.29 431.82L135.01 432.52L135.73 433.21L136.46 433.90L137.18 434.60L137.90 435.30L138.62 436.00L139.33 436.69L140.05 437.39L140.76 438.09L141.48 438.79L142.19 439.50L142.90 440.20L143.61 440.90L144.32 441.60L145.03 442.30L145.74 443.01L146.45 443.71L147.15 444.41L147.86 445.12L148.56 445.82L149.27 446.52L149.97 447.22L150.67 447.93L151.38 448.63L152.08 449.33L152.78 450.03L153.48 450.73L154.18 451.42L154.89 452.12L155.59 452.81L156.30 453.50L157.01 454.19L157.72 454.88L158.43 455.56L159.14 456.24L159.86 456.92L160.58 457.59L161.31 458.26L162.04 458.93L162.77 459.59L163.50 460.24L164.24 460.90L164.99 461.54L165.74 462.19L166.50 462.82L167.26 463.45L168.03 464.08L168.80 464.69L169.58 465.31L170.37 465.91L171.16 466.51L171.97 467.10L172.78 467.68L173.59 468.26L174.42 468.83L175.25 469.39L176.09 469.94L176.95 470.48L177.81 471.02L178.68 471.54L179.56 472.06L180.45 472.57L181.34 473.08L182.24 473.57L183.14 474.07L184.04 474.56L184.95 475.05L185.86 475.54L186.76 476.03L187.66 476.52L188.56 477.01L189.45 477.50L190.33 478.00L191.21 478.51L192.08 479.02L192.94 479.54L193.78 480.07L194.61 480.61L195.43 481.17L196.23 481.73L197.02 482.31L197.78 482.90L198.54 483.50L199.28 484.11L200.01 484.74L200.72 485.38L201.42 486.03L202.11 486.69L202.79 487.37L203.46 488.06L204.12 488.76L204.77 489.47L205.41 490.19L206.04 490.93L206.67 491.67L207.29 492.43L207.90 493.20L208.51 493.98L209.12 494.77L209.72 495.58L210.32 496.39L210.92 497.21L211.51 498.05L212.11 498.90L212.70 499.75L213.30 500.62L213.89 501.50L214.49 502.39L215.09 503.29L215.69 504.20L216.30 505.12L216.91 506.04L217.53 506.97L218.15 507.89L218.77 508.80L219.41 509.69L220.05 510.55L220.69 511.39L221.35 512.19L222.01 512.94L222.68 513.64L223.36 514.29L224.05 514.87L224.75 515.39L225.46 515.83L226.18 516.18L226.91 516.45L227.66 516.63L228.41 516.71L229.16 516.71L229.92 516.62L230.67 516.44L231.42 516.19L232.15 515.85L232.88 515.44L233.58 514.96L234.26 514.41L234.92 513.79L235.56 513.11L236.17 512.37L236.77 511.58L237.35 510.75L237.92 509.87L238.47 508.97L239.02 508.03L239.55 507.08L240.08 506.10L240.60 505.11L241.12 504.12L241.64 503.13L242.16 502.14L242.68 501.16L243.20 500.18L243.73 499.22L244.26 498.27L244.80 497.33L245.34 496.40L245.89 495.49L246.45 494.60L247.02 493.72L247.59 492.86L248.18 492.03L248.78 491.22L249.39 490.43L250.01 489.67L250.65 488.94L251.30 488.23L251.97 487.55L252.66 486.91L253.36 486.30L254.08 485.72L254.82 485.18L255.58 484.67L256.36 484.21L257.16 483.78L257.99 483.39L258.84 483.05L259.71 482.75L260.61 482.50L261.53 482.29L262.47 482.12L263.44 481.99L264.42 481.90L265.41 481.84L266.42 481.80L267.44 481.80L268.48 481.81L269.51 481.85L270.56 481.91L271.61 481.98L272.66 482.06L273.71 482.15L274.76 482.25L275.80 482.36L276.84 482.46L277.87 482.57L278.89 482.67L279.91 482.77L280.92 482.88L281.92 482.98L282.92 483.09L283.91 483.20L284.90 483.31L285.89 483.42L286.87 483.53L287.85 483.65L288.83 483.77L289.80 483.90L290.77 484.03L291.74 484.16L292.71 484.30L293.67 484.44L294.64 484.59L295.61 484.74L296.57 484.91L297.54 485.07L298.51 485.25L299.47 485.43L300.44 485.61L301.41 485.80L302.38 486.00L303.35 486.20L304.32 486.41L305.29 486.62L306.26 486.84L307.23 487.06L308.20 487.29L309.18 487.52L310.15 487.76L311.12 487.99L312.09 488.24L313.06 488.48L314.03 488.73L315.00 488.98L315.98 489.24L316.95 489.49L317.92 489.75L318.89 490.01L319.86 490.28L320.83 490.54L321.80 490.81L322.77 491.08L323.73 491.34L324.70 491.61L325.67 491.88L326.63 492.15L327.60 492.42L328.56 492.70L329.53 492.97L330.49 493.24L331.45 493.51L332.41 493.78L333.37 494.04L334.33 494.31L335.29 494.57L336.24 494.84L337.20 495.10" stroke="#e41822"/>
<path d="M48.20 375.60L49.15 375.82L50.10 376.05L51.05 376.28L52.01 376.51L52.97 376.75L53.92 377.00L54.88 377.24L55.84 377.49L56.80 377.75L57.76 378.01L58.72 378.27L59.69 378.54L60.65 378.82L61.61 379.10L62.57 379.38L63.53 379.67L64.49 379.96L65.46 380.26L66.42 380.56L67.37 380.87L68.33 381.18L69.29 381.50L70.24 381.83L71.20 382.16L72.15 382.50L73.10 382.84L74.05 383.18L75.00 383.54L75.94 383.90L76.88 384.26L77.82 384.63L78.76 385.01L79.69 385.40L80.62 385.79L81.55 386.18L82.48 386.59L83.40 387.00L84.31 387.41L85.23 387.84L86.14 388.27L87.04 388.70L87.94 389.15L88.84 389.60L89.73 390.06L90.62 390.52L91.50 390.99L92.38 391.47L93.25 391.96L94.12 392.46L94.98 392.96L95.83 393.47L96.68 393.99L97.53 394.51L98.37 395.05L99.20 395.59L100.02 396.14L100.84 396.70L101.65 397.26L102.46 397.84L103.26 398.42L104.05 399.01L104.84 399.61L105.62 400.21L106.40 400.82L107.17 401.44L107.93 402.07L108.69 402.70L109.45 403.34L110.19 403.98L110.94 404.64L111.68 405.29L112.41 405.96L113.14 406.62L113.87 407.30L114.59 407.98L115.31 408.66L116.02 409.35L116.73 410.05L117.43 410.75L118.13 411.45L118.83 412.16L119.53 412.88L120.22 413.59L120.90 414.32L121.59 415.04L122.27 415.77L122.95 416.50L123.63 417.24L124.30 417.98L124.97 418.72L125.64 419.47L126.31 420.21L126.97 420.96L127.64 421.72L128.30 422.47L128.96 423.23L129.62 423.99L130.27 424.75L130.93 425.51L131.58 426.28L132.24 427.04L132.89 427.81L133.54 428.58L134.19 429.35L134.85 430.11L135.50 430.88L136.15 431.65L136.80 432.42L137.45 433.20L138.10 433.97L138.75 434.74L139.40 435.51L140.05 436.27L140.70 437.04L141.36 437.81L142.01 438.58L142.67 439.34L143.32 440.11L143.98 440.87L144.64 441.63L145.30 442.39L145.96 443.14L146.63 443.90L147.29 444.65L147.96 445.40L148.63 446.15L149.31 446.89L149.98 447.63L150.66 448.37L151.34 449.11L152.02 449.84L152.71 450.57L153.40 451.30L154.09 452.02L154.78 452.74L155.48 453.45L156.18 454.16L156.88 454.87L157.58 455.57L158.29 456.28L159.00 456.97L159.71 457.66L160.43 458.35L161.15 459.04L161.87 459.72L162.59 460.39L163.32 461.06L164.05 461.73L164.79 462.39L165.52 463.05L166.26 463.70L167.00 464.35L167.75 464.99L168.50 465.63L169.25 466.26L170.00 466.89L170.76 467.51L171.52 468.13L172.29 468.74L173.06 469.35L173.83 469.95L174.60 470.55L175.38 471.14L176.16 471.72L176.94 472.30L177.73 472.87L178.52 473.44L179.31 474.00L180.11 474.56L180.91 475.11L181.71 475.66L182.51 476.21L183.32 476.76L184.12 477.32L184.93 477.87L185.73 478.43L186.53 479.00L187.33 479.57L188.13 480.15L188.93 480.74L189.73 481.34L190.52 481.95L191.31 482.58L192.09 483.21L192.87 483.87L193.64 484.54L194.41 485.23L195.17 485.94L195.93 486.66L196.68 487.41L197.42 488.17L198.17 488.94L198.91 489.73L199.64 490.52L200.38 491.32L201.12 492.13L201.86 492.93L202.61 493.73L203.35 494.52L204.11 495.31L204.86 496.09L205.63 496.86L206.40 497.61L207.19 498.34L207.97 499.05L208.77 499.74L209.57 500.39L210.37 501.01L211.18 501.60L211.99 502.14L212.80 502.64L213.61 503.08L214.43 503.48L215.24 503.82L216.06 504.10L216.87 504.31L217.67 504.46L218.48 504.53L219.28 504.54L220.08 504.47L220.87 504.33L221.67 504.13L222.46 503.87L223.24 503.55L224.03 503.19L224.82 502.77L225.60 502.31L226.38 501.81L227.17 501.27L227.95 500.70L228.74 500.10L229.52 499.47L230.31 498.82L231.10 498.15L231.90 497.47L232.69 496.77L233.49 496.07L234.29 495.36L235.10 494.66L235.91 493.95L236.73 493.26L237.55 492.58L238.38 491.91L239.21 491.26L240.05 490.63L240.90 490.03L241.75 489.46L242.61 488.92L243.48 488.42L244.36 487.95L245.24 487.52L246.13 487.11L247.03 486.74L247.93 486.39L248.84 486.08L249.76 485.79L250.68 485.52L251.61 485.28L252.54 485.07L253.47 484.87L254.42 484.70L255.36 484.55L256.31 484.42L257.26 484.30L258.22 484.20L259.18 484.12L260.14 484.05L261.11 484.00L262.07 483.95L263.04 483.92L264.01 483.90L264.99 483.89L265.96 483.89L266.94 483.89L267.92 483.91L268.90 483.94L269.88 483.98L270.86 484.02L271.85 484.08L272.84 484.14L273.82 484.21L274.81 484.29L275.80 484.37L276.80 484.47L277.79 484.57L278.78 484.68L279.78 484.79L280.77 484.91L281.77 485.04L282.77 485.17L283.77 485.31L284.77 485.45L285.77 485.60L286.77 485.76L287.77 485.92L288.77 486.08L289.77 486.25L290.77 486.42L291.78 486.60L292.78 486.78L293.78 486.96L294.78 487.15L295.79 487.34L296.79 487.53L297.79 487.72L298.80 487.92L299.80 488.11L300.80 488.31L301.81 488.51L302.81 488.71L303.81 488.92L304.81 489.12L305.81 489.32L306.81 489.53L307.81 489.73L308.81 489.93L309.81 490.14L310.80 490.34L311.80 490.54L312.80 490.74L313.79 490.94L314.78 491.13L315.78 491.33L316.77 491.52L317.76 491.71L318.75 491.90L319.73 492.08L320.72 492.26L321.70 492.44L322.68 492.61L323.67 492.78L324.65 492.95L325.62 493.11L326.60 493.26L327.57 493.41L328.55 493.56L329.52 493.70L330.48 493.83L331.45 493.96L332.41 494.09L333.38 494.20L334.34 494.31L335.29 494.42L336.25 494.51L337.20 494.60" stroke="#146814"/>
<path d="M48.20 372.10L49.13 372.33L50.06 372.57L51.00 372.80L51.93 373.04L52.88 373.29L53.82 373.53L54.77 373.78L55.73 374.03L56.68 374.28L57.64 374.54L58.60 374.80L59.56 375.06L60.52 375.33L61.49 375.60L62.45 375.87L63.42 376.15L64.39 376.43L65.36 376.72L66.33 377.01L67.29 377.31L68.26 377.61L69.23 377.91L70.20 378.22L71.17 378.54L72.13 378.86L73.10 379.19L74.06 379.52L75.02 379.86L75.98 380.20L76.94 380.55L77.89 380.91L78.84 381.27L79.79 381.64L80.74 382.01L81.68 382.39L82.62 382.78L83.55 383.18L84.48 383.58L85.41 383.99L86.33 384.41L87.25 384.83L88.16 385.26L89.07 385.70L89.97 386.15L90.86 386.61L91.75 387.07L92.63 387.55L93.51 388.03L94.38 388.52L95.25 389.02L96.10 389.52L96.95 390.04L97.79 390.57L98.63 391.10L99.45 391.65L100.27 392.20L101.08 392.77L101.88 393.34L102.67 393.93L103.45 394.52L104.23 395.12L105.00 395.73L105.76 396.35L106.51 396.98L107.25 397.62L107.99 398.27L108.72 398.92L109.44 399.58L110.15 400.25L110.86 400.93L111.56 401.62L112.25 402.32L112.94 403.02L113.62 403.73L114.29 404.44L114.96 405.17L115.62 405.90L116.27 406.64L116.92 407.38L117.56 408.13L118.20 408.89L118.83 409.65L119.45 410.42L120.07 411.20L120.68 411.98L121.29 412.77L121.89 413.56L122.49 414.36L123.08 415.16L123.67 415.97L124.25 416.78L124.82 417.60L125.40 418.42L125.96 419.25L126.53 420.08L127.08 420.92L127.64 421.76L128.19 422.60L128.73 423.45L129.27 424.30L129.81 425.15L130.35 426.01L130.88 426.88L131.40 427.74L131.93 428.61L132.45 429.48L132.96 430.35L133.48 431.23L133.99 432.11L134.50 432.99L135.00 433.87L135.50 434.75L136.00 435.64L136.50 436.53L137.00 437.42L137.49 438.31L137.98 439.20L138.47 440.09L138.95 440.99L139.44 441.88L139.92 442.78L140.40 443.67L140.88 444.57L141.36 445.47L141.84 446.37L142.31 447.26L142.79 448.16L143.26 449.06L143.73 449.95L144.20 450.85L144.67 451.74L145.14 452.64L145.61 453.53L146.08 454.42L146.55 455.31L147.02 456.20L147.49 457.09L147.96 457.97L148.43 458.86L148.90 459.74L149.37 460.62L149.84 461.49L150.31 462.37L150.78 463.24L151.25 464.11L151.73 464.98L152.21 465.84L152.68 466.70L153.16 467.56L153.65 468.42L154.13 469.27L154.62 470.12L155.11 470.97L155.60 471.81L156.10 472.65L156.60 473.49L157.11 474.32L157.62 475.15L158.13 475.97L158.65 476.80L159.17 477.62L159.70 478.43L160.23 479.24L160.77 480.05L161.32 480.85L161.87 481.65L162.42 482.44L162.99 483.23L163.56 484.02L164.13 484.80L164.72 485.58L165.31 486.35L165.91 487.12L166.52 487.88L167.13 488.64L167.76 489.39L168.39 490.14L169.03 490.88L169.68 491.62L170.34 492.35L171.01 493.08L171.69 493.80L172.38 494.52L173.08 495.23L173.79 495.93L174.51 496.63L175.24 497.33L175.98 498.02L176.73 498.70L177.50 499.37L178.27 500.04L179.06 500.71L179.86 501.37L180.67 502.02L181.50 502.66L182.33 503.29L183.17 503.91L184.02 504.52L184.87 505.12L185.74 505.71L186.61 506.29L187.49 506.85L188.37 507.40L189.26 507.94L190.16 508.46L191.06 508.96L191.96 509.45L192.87 509.92L193.78 510.37L194.70 510.80L195.61 511.21L196.53 511.61L197.45 511.98L198.36 512.33L199.28 512.66L200.20 512.96L201.11 513.25L202.03 513.50L202.94 513.74L203.85 513.94L204.76 514.11L205.66 514.24L206.55 514.32L207.45 514.36L208.33 514.36L209.21 514.29L210.08 514.17L210.94 513.99L211.80 513.73L212.64 513.41L213.48 513.02L214.31 512.56L215.12 512.04L215.94 511.47L216.74 510.85L217.54 510.20L218.34 509.52L219.13 508.81L219.92 508.09L220.71 507.35L221.49 506.62L222.28 505.89L223.07 505.17L223.86 504.46L224.66 503.78L225.46 503.13L226.27 502.52L227.08 501.95L227.90 501.43L228.73 500.97L229.58 500.57L230.43 500.23L231.29 499.94L232.15 499.71L233.03 499.53L233.92 499.41L234.81 499.32L235.71 499.29L236.62 499.30L237.53 499.34L238.45 499.43L239.38 499.55L240.31 499.71L241.24 499.89L242.19 500.11L243.13 500.35L244.08 500.62L245.03 500.91L245.99 501.22L246.95 501.54L247.91 501.88L248.87 502.24L249.84 502.61L250.81 502.98L251.77 503.36L252.74 503.74L253.71 504.13L254.68 504.51L255.65 504.89L256.61 505.27L257.58 505.64L258.55 506.01L259.51 506.37L260.48 506.73L261.44 507.08L262.41 507.43L263.37 507.77L264.33 508.11L265.29 508.45L266.25 508.78L267.22 509.10L268.18 509.43L269.14 509.74L270.10 510.06L271.06 510.37L272.02 510.67L272.97 510.97L273.93 511.27L274.89 511.56L275.85 511.85L276.81 512.14L277.77 512.42L278.73 512.70L279.68 512.97L280.64 513.24L281.60 513.51L282.56 513.77L283.52 514.03L284.48 514.29L285.43 514.54L286.39 514.79L287.35 515.04L288.31 515.28L289.27 515.52L290.23 515.76L291.19 515.99L292.15 516.22L293.11 516.45L294.07 516.67L295.03 516.89L296.00 517.11L296.96 517.33L297.92 517.54L298.88 517.75L299.85 517.96L300.81 518.16L301.78 518.36L302.74 518.56L303.71 518.76L304.68 518.95L305.65 519.15L306.62 519.34L307.59 519.52L308.56 519.71L309.53 519.89L310.50 520.07L311.47 520.25L312.45 520.43L313.42 520.60L314.40 520.77L315.38 520.94L316.35 521.11L317.33 521.28L318.31 521.44L319.30 521.61L320.28 521.77L321.26 521.93L322.25 522.09L323.24 522.24L324.22 522.40L325.21 522.55L326.20 522.71L327.20 522.86L328.19 523.01L329.18 523.15L330.18 523.30L331.18 523.45L332.18 523.59L333.18 523.74L334.18 523.88L335.19 524.02L336.19 524.16L337.20 524.30" stroke="#2424f4"/>
<path d="M48.20 369.30L49.11 369.52L50.03 369.73L50.95 369.95L51.88 370.17L52.82 370.38L53.76 370.61L54.70 370.83L55.65 371.05L56.61 371.28L57.56 371.50L58.53 371.73L59.49 371.97L60.46 372.20L61.43 372.44L62.41 372.68L63.38 372.92L64.36 373.17L65.34 373.42L66.33 373.68L67.31 373.93L68.30 374.20L69.28 374.46L70.27 374.73L71.26 375.01L72.24 375.29L73.23 375.57L74.21 375.86L75.20 376.16L76.18 376.46L77.16 376.76L78.15 377.07L79.12 377.39L80.10 377.72L81.07 378.05L82.05 378.38L83.01 378.73L83.98 379.08L84.94 379.43L85.90 379.80L86.85 380.17L87.80 380.55L88.74 380.93L89.68 381.33L90.61 381.73L91.54 382.14L92.46 382.56L93.38 382.99L94.29 383.42L95.19 383.87L96.09 384.32L96.98 384.79L97.86 385.26L98.73 385.74L99.59 386.23L100.45 386.73L101.30 387.25L102.14 387.77L102.97 388.30L103.79 388.85L104.60 389.40L105.40 389.97L106.19 390.54L106.97 391.13L107.74 391.73L108.50 392.34L109.25 392.96L109.98 393.60L110.71 394.25L111.42 394.91L112.12 395.58L112.81 396.26L113.49 396.95L114.15 397.66L114.81 398.37L115.45 399.10L116.08 399.84L116.71 400.59L117.32 401.34L117.92 402.11L118.51 402.89L119.09 403.67L119.66 404.47L120.22 405.27L120.78 406.09L121.32 406.91L121.85 407.74L122.38 408.57L122.89 409.42L123.40 410.27L123.89 411.13L124.38 412.00L124.86 412.88L125.33 413.76L125.80 414.65L126.25 415.54L126.70 416.44L127.14 417.35L127.57 418.26L127.99 419.17L128.41 420.10L128.82 421.02L129.22 421.96L129.62 422.89L130.01 423.83L130.39 424.78L130.76 425.73L131.13 426.68L131.50 427.63L131.85 428.59L132.21 429.55L132.55 430.52L132.89 431.49L133.22 432.46L133.55 433.43L133.88 434.40L134.20 435.38L134.51 436.35L134.82 437.33L135.12 438.31L135.42 439.29L135.72 440.27L136.01 441.25L136.30 442.23L136.58 443.21L136.86 444.19L137.13 445.17L137.41 446.15L137.67 447.12L137.94 448.10L138.20 449.07L138.46 450.05L138.72 451.02L138.97 451.99L139.22 452.96L139.47 453.93L139.71 454.90L139.96 455.87L140.20 456.83L140.43 457.80L140.67 458.77L140.90 459.73L141.12 460.69L141.35 461.66L141.57 462.62L141.79 463.58L142.01 464.54L142.23 465.51L142.44 466.47L142.65 467.43L142.86 468.39L143.06 469.35L143.27 470.31L143.47 471.27L143.67 472.23L143.87 473.19L144.06 474.15L144.25 475.11L144.45 476.07L144.64 477.03L144.82 477.99L145.01 478.95L145.19 479.91L145.37 480.87L145.55 481.84L145.73 482.80L145.91 483.76L146.08 484.72L146.26 485.69L146.43 486.65L146.60 487.62L146.77 488.59L146.94 489.55L147.10 490.52L147.27 491.49L147.43 492.46L147.59 493.43L147.75 494.41L147.91 495.38L148.07 496.35L148.23 497.33L148.39 498.31L148.54 499.29L148.70 500.27L148.85 501.25L149.00 502.23L149.16 503.21L149.31 504.20L149.46 505.19L149.61 506.18L149.76 507.17L149.90 508.16L150.05 509.16L150.20 510.15L150.35 511.15L150.49 512.15L150.64 513.16L150.78 514.16L150.93 515.17L151.07 516.17L151.22 517.18L151.36 518.20L151.51 519.21L151.66 520.22L151.81 521.23L151.96 522.25L152.11 523.26L152.27 524.28L152.43 525.29L152.59 526.31L152.75 527.32L152.92 528.34L153.09 529.35L153.27 530.36L153.45 531.37L153.63 532.38L153.82 533.39L154.02 534.39L154.21 535.40L154.42 536.40L154.63 537.40L154.85 538.39L155.07 539.39L155.30 540.38L155.53 541.36L155.78 542.35L156.03 543.33L156.29 544.30L156.56 545.28L156.83 546.25L157.11 547.21L157.41 548.17L157.71 549.12L158.02 550.07L158.34 551.02L158.67 551.96L159.01 552.89L159.36 553.82L159.72 554.74L160.10 555.66L160.48 556.57L160.87 557.47L161.28 558.37L161.70 559.25L162.13 560.14L162.58 561.01L163.03 561.88L163.50 562.74L163.99 563.59L164.49 564.43L165.00 565.27L165.52 566.10L166.06 566.91L166.62 567.72L167.19 568.52L167.77 569.31L168.37 570.10L168.99 570.87L169.62 571.63L170.27 572.38L170.94 573.12L171.62 573.85L172.32 574.57L173.04 575.28L173.77 575.98L174.53 576.67L175.30 577.35L176.09 578.01L176.89 578.65L177.71 579.27L178.55 579.86L179.39 580.41L180.24 580.93L181.10 581.41L181.97 581.84L182.84 582.22L183.72 582.54L184.60 582.80L185.48 583.00L186.36 583.12L187.24 583.18L188.11 583.15L188.98 583.04L189.84 582.85L190.69 582.59L191.53 582.25L192.35 581.85L193.17 581.38L193.96 580.86L194.74 580.29L195.49 579.67L196.23 579.00L196.94 578.30L197.62 577.56L198.28 576.79L198.91 576.00L199.52 575.18L200.10 574.33L200.67 573.46L201.21 572.58L201.74 571.67L202.26 570.75L202.76 569.81L203.25 568.86L203.73 567.90L204.20 566.93L204.66 565.96L205.12 564.98L205.58 563.99L206.03 563.01L206.49 562.03L206.95 561.05L207.41 560.07L207.88 559.09L208.35 558.13L208.84 557.17L209.34 556.21L209.85 555.27L210.37 554.33L210.91 553.41L211.47 552.50L212.05 551.61L212.64 550.74L213.24 549.90L213.86 549.09L214.49 548.31L215.14 547.57L215.79 546.87L216.46 546.22L217.14 545.61L217.83 545.06L218.54 544.56L219.25 544.12L219.97 543.75L220.69 543.44L221.43 543.21L222.17 543.05L222.92 542.96L223.68 542.96L224.44 543.05L225.20 543.22L225.98 543.47L226.75 543.79L227.54 544.18L228.33 544.63L229.12 545.12L229.93 545.67L230.73 546.24L231.55 546.85L232.38 547.48L233.21 548.12L234.05 548.78L234.90 549.43L235.75 550.08L236.62 550.71L237.49 551.32L238.38 551.90L239.27 552.45L240.17 552.96L241.08 553.42L242.01 553.82L242.94 554.15L243.88 554.42L244.83 554.64L245.79 554.80L246.76 554.92L247.74 554.99L248.72 555.03L249.71 555.03L250.70 555.01L251.69 554.97L252.69 554.91L253.69 554.84L254.69 554.76L255.69 554.69L256.69 554.62L257.69 554.56L258.69 554.52L259.68 554.49L260.68 554.49L261.67 554.51L262.65 554.54L263.64 554.60L264.62 554.67L265.60 554.76L266.58 554.86L267.56 554.98L268.53 555.12L269.50 555.27L270.47 555.44L271.44 555.62L272.41 555.81L273.37 556.02L274.34 556.23L275.30 556.46L276.26 556.70L277.22 556.95L278.18 557.21L279.13 557.48L280.09 557.75L281.04 558.04L282.00 558.33L282.95 558.63L283.90 558.93L284.85 559.24L285.80 559.56L286.75 559.87L287.70 560.20L288.65 560.52L289.60 560.85L290.55 561.18L291.50 561.51L292.44 561.85L293.39 562.18L294.34 562.51L295.29 562.84L296.24 563.17L297.19 563.50L298.13 563.82L299.08 564.15L300.03 564.46L300.98 564.78L301.93 565.09L302.88 565.39L303.84 565.69L304.79 565.97L305.74 566.26L306.70 566.53L307.65 566.80L308.61 567.05L309.57 567.30L310.53 567.54L311.49 567.76L312.45 567.98L313.42 568.18L314.38 568.37L315.35 568.55L316.32 568.71L317.29 568.86L318.26 568.99L319.24 569.11L320.21 569.21L321.19 569.29L322.17 569.36L323.16 569.41L324.14 569.44L325.13 569.46L326.12 569.45L327.11 569.42L328.11 569.37L329.11 569.30L330.11 569.21L331.11 569.09L332.12 568.96L333.13 568.79L334.14 568.61L335.16 568.40L336.18 568.16L337.20 567.90" stroke="#5a0cb4"/>
</g>
<text x="72.4" y="480.2" font-size="15.5" fill="#5a0cb4">y<tspan font-size="9.8" dy="5.1">probe</tspan><tspan dy="-5.1" dx="-0.6"> =</tspan></text>
<text x="72.6" y="499.6" font-size="15.5" text-anchor="start" fill="#5a0cb4" >12.5 mm</text>
<text x="82.7" y="548.9" font-size="15.5" text-anchor="start" fill="#2424f4" >9.5 mm</text>
<text x="244.7" y="466" font-size="15.5" text-anchor="start" fill="#146814" >6.5 mm</text>
<text x="248.5" y="535.6" font-size="15.5" text-anchor="start" fill="#e41822" >3.5 mm</text>
<path d="M133.30 495.00L141.80 495.00" stroke="#5a0cb4" stroke-width="1.1" fill="none"/>
<path d="M147.30 495.00L140.80 498.50L140.80 491.50Z" fill="#5a0cb4"/>
<path d="M134.50 547.60L177.82 506.20" stroke="#2424f4" stroke-width="1.1" fill="none"/>
<path d="M181.80 502.40L179.52 509.42L174.68 504.36Z" fill="#2424f4"/>
<path d="M240.50 459.00L240.50 481.30" stroke="#146814" stroke-width="1.1" fill="none"/>
<path d="M240.50 486.80L237.00 480.30L244.00 480.30Z" fill="#146814"/>
<path d="M247.10 530.70L237.97 518.33" stroke="#e41822" stroke-width="1.1" fill="none"/>
<path d="M234.70 513.90L241.38 517.05L235.74 521.21Z" fill="#e41822"/>
<rect x="48.2" y="36.15" width="289.0" height="261.55" fill="none" stroke="#000" stroke-width="1.4"/>
<path d="M62.65 297.7v-3.5M62.65 36.15v3.5M77.10 297.7v-3.5M77.10 36.15v3.5M91.55 297.7v-3.5M91.55 36.15v3.5M106.00 297.7v-3.5M106.00 36.15v3.5M120.45 297.7v-6M120.45 36.15v6M134.90 297.7v-3.5M134.90 36.15v3.5M149.35 297.7v-3.5M149.35 36.15v3.5M163.80 297.7v-3.5M163.80 36.15v3.5M178.25 297.7v-3.5M178.25 36.15v3.5M192.70 297.7v-6M192.70 36.15v6M207.15 297.7v-3.5M207.15 36.15v3.5M221.60 297.7v-3.5M221.60 36.15v3.5M236.05 297.7v-3.5M236.05 36.15v3.5M250.50 297.7v-3.5M250.50 36.15v3.5M264.95 297.7v-6M264.95 36.15v6M279.40 297.7v-3.5M279.40 36.15v3.5M293.85 297.7v-3.5M293.85 36.15v3.5M308.30 297.7v-3.5M308.30 36.15v3.5M322.75 297.7v-3.5M322.75 36.15v3.5M48.2 44.87h3.5M337.2 44.87h-3.5M48.2 53.59h3.5M337.2 53.59h-3.5M48.2 62.31h3.5M337.2 62.31h-3.5M48.2 71.02h3.5M337.2 71.02h-3.5M48.2 79.74h6M337.2 79.74h-6M48.2 88.46h3.5M337.2 88.46h-3.5M48.2 97.18h3.5M337.2 97.18h-3.5M48.2 105.90h3.5M337.2 105.90h-3.5M48.2 114.62h3.5M337.2 114.62h-3.5M48.2 123.33h6M337.2 123.33h-6M48.2 132.05h3.5M337.2 132.05h-3.5M48.2 140.77h3.5M337.2 140.77h-3.5M48.2 149.49h3.5M337.2 149.49h-3.5M48.2 158.21h3.5M337.2 158.21h-3.5M48.2 166.93h6M337.2 166.93h-6M48.2 175.64h3.5M337.2 175.64h-3.5M48.2 184.36h3.5M337.2 184.36h-3.5M48.2 193.08h3.5M337.2 193.08h-3.5M48.2 201.80h3.5M337.2 201.80h-3.5M48.2 210.52h6M337.2 210.52h-6M48.2 219.24h3.5M337.2 219.24h-3.5M48.2 227.95h3.5M337.2 227.95h-3.5M48.2 236.67h3.5M337.2 236.67h-3.5M48.2 245.39h3.5M337.2 245.39h-3.5M48.2 254.11h6M337.2 254.11h-6M48.2 262.83h3.5M337.2 262.83h-3.5M48.2 271.55h3.5M337.2 271.55h-3.5M48.2 280.26h3.5M337.2 280.26h-3.5M48.2 288.98h3.5M337.2 288.98h-3.5" stroke="#000" stroke-width="1.4" fill="none"/>
<rect x="48.2" y="347.55" width="289.0" height="261.74999999999994" fill="none" stroke="#000" stroke-width="1.4"/>
<path d="M62.65 609.3v-3.5M62.65 347.55v3.5M77.10 609.3v-3.5M77.10 347.55v3.5M91.55 609.3v-3.5M91.55 347.55v3.5M106.00 609.3v-3.5M106.00 347.55v3.5M120.45 609.3v-6M120.45 347.55v6M134.90 609.3v-3.5M134.90 347.55v3.5M149.35 609.3v-3.5M149.35 347.55v3.5M163.80 609.3v-3.5M163.80 347.55v3.5M178.25 609.3v-3.5M178.25 347.55v3.5M192.70 609.3v-6M192.70 347.55v6M207.15 609.3v-3.5M207.15 347.55v3.5M221.60 609.3v-3.5M221.60 347.55v3.5M236.05 609.3v-3.5M236.05 347.55v3.5M250.50 609.3v-3.5M250.50 347.55v3.5M264.95 609.3v-6M264.95 347.55v6M279.40 609.3v-3.5M279.40 347.55v3.5M293.85 609.3v-3.5M293.85 347.55v3.5M308.30 609.3v-3.5M308.30 347.55v3.5M322.75 609.3v-3.5M322.75 347.55v3.5M48.2 362.09h3.5M337.2 362.09h-3.5M48.2 376.63h3.5M337.2 376.63h-3.5M48.2 391.18h3.5M337.2 391.18h-3.5M48.2 405.72h6M337.2 405.72h-6M48.2 420.26h3.5M337.2 420.26h-3.5M48.2 434.80h3.5M337.2 434.80h-3.5M48.2 449.34h3.5M337.2 449.34h-3.5M48.2 463.88h6M337.2 463.88h-6M48.2 478.42h3.5M337.2 478.42h-3.5M48.2 492.97h3.5M337.2 492.97h-3.5M48.2 507.51h3.5M337.2 507.51h-3.5M48.2 522.05h6M337.2 522.05h-6M48.2 536.59h3.5M337.2 536.59h-3.5M48.2 551.13h3.5M337.2 551.13h-3.5M48.2 565.67h3.5M337.2 565.67h-3.5M48.2 580.22h6M337.2 580.22h-6M48.2 594.76h3.5M337.2 594.76h-3.5" stroke="#000" stroke-width="1.4" fill="none"/>
</svg></body></html>
